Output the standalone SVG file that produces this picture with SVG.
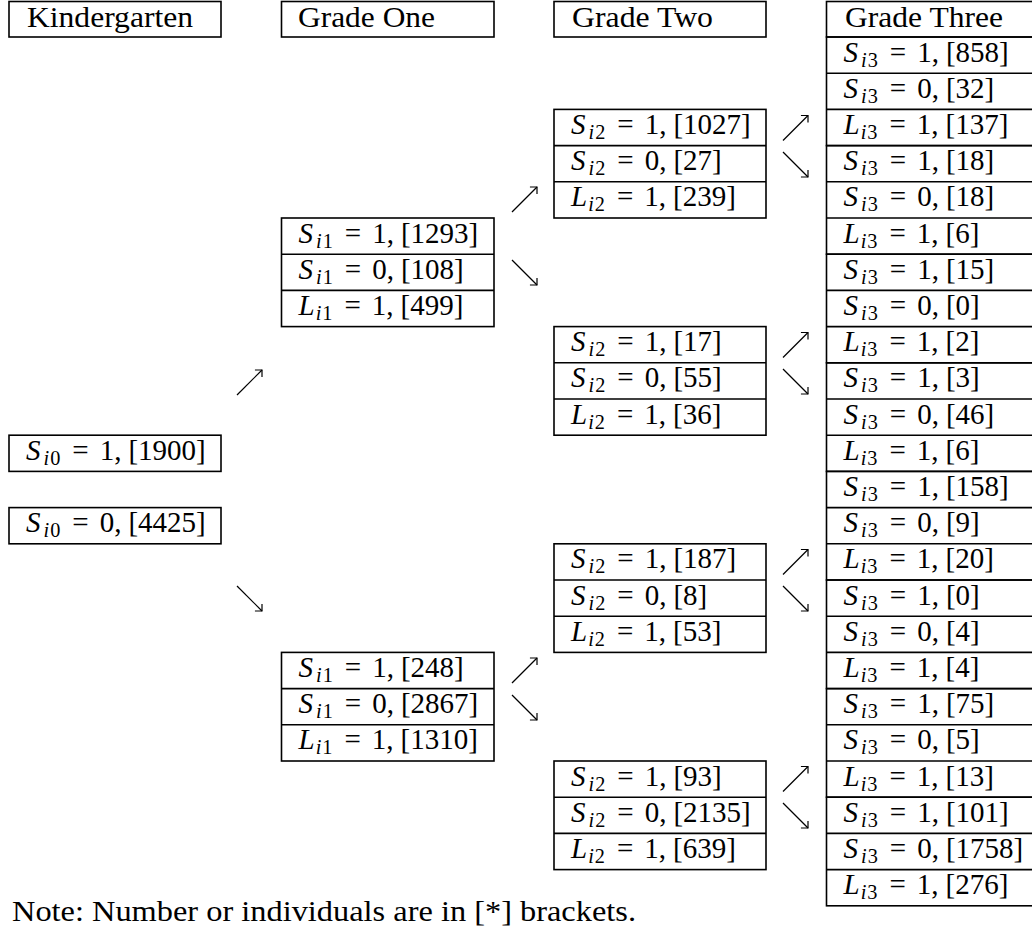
<svg xmlns="http://www.w3.org/2000/svg" width="1032" height="942" viewBox="0 0 1032 942">
<style>
.box{fill:none;stroke:#000;stroke-width:1.6}
.t{font-family:"Liberation Serif","DejaVu Serif","Times New Roman",serif;font-size:29px;fill:#000}
.i{font-style:italic}
.s{font-size:20.3px}
.arr{stroke:#000;stroke-width:1.2;fill:none;marker-end:url(#ah)}
</style>
<defs>
<marker id="ah" markerUnits="userSpaceOnUse" viewBox="-8 -7 10 14" markerWidth="10" markerHeight="14" refX="0" refY="0" orient="auto">
<path d="M-5,-5 L0,0 L-5,5" fill="none" stroke="#000" stroke-width="1.2"/>
</marker>
</defs>
<rect width="1032" height="942" fill="#fff"/>

<g id="hdr-k"><rect class="box" x="9" y="1.5" width="212" height="35.5"/><text class="t" font-family="Liberation Serif, serif" x="27" y="27" textLength="166" lengthAdjust="spacingAndGlyphs">Kindergarten</text></g>
<g id="hdr-g1"><rect class="box" x="281.5" y="1.5" width="212.5" height="35.5"/><text class="t" x="298" y="27" textLength="137" lengthAdjust="spacingAndGlyphs">Grade One</text></g>
<g id="hdr-g2"><rect class="box" x="554" y="1.5" width="212" height="35.5"/><text class="t" x="572" y="27" textLength="141" lengthAdjust="spacingAndGlyphs">Grade Two</text></g>
<g id="hdr-g3"><rect class="box" x="826.5" y="1.5" width="220" height="35.5"/><text class="t" x="845" y="27" textLength="158" lengthAdjust="spacingAndGlyphs">Grade Three</text></g>

<g id="k-s1"><rect class="box" x="9" y="435.2" width="212" height="36.2"/><text class="t" x="26" y="459.7"><tspan class="i">S</tspan><tspan class="s i" dx="3" dy="5">i</tspan><tspan class="s" dx="1">0</tspan><tspan dx="12" dy="-5">=</tspan><tspan dx="11">1,</tspan><tspan dx="7">[1900]</tspan></text></g>
<g id="k-s0"><rect class="box" x="9" y="507.6" width="212" height="36.2"/><text class="t" x="26" y="532.1"><tspan class="i">S</tspan><tspan class="s i" dx="3" dy="5">i</tspan><tspan class="s" dx="1">0</tspan><tspan dx="12" dy="-5">=</tspan><tspan dx="11">0,</tspan><tspan dx="7">[4425]</tspan></text></g>

<g id="g1-a"><rect class="box" x="281.5" y="218" width="212.5" height="108.6"/><path class="box" d="M281.5,254.2H494M281.5,290.4H494"/>
<text class="t" x="298.5" y="242.5"><tspan class="i">S</tspan><tspan class="s i" dx="3" dy="5">i</tspan><tspan class="s" dx="1">1</tspan><tspan dx="12" dy="-5">=</tspan><tspan dx="11">1,</tspan><tspan dx="7">[1293]</tspan></text>
<text class="t" x="298.5" y="278.7"><tspan class="i">S</tspan><tspan class="s i" dx="3" dy="5">i</tspan><tspan class="s" dx="1">1</tspan><tspan dx="12" dy="-5">=</tspan><tspan dx="11">0,</tspan><tspan dx="7">[108]</tspan></text>
<text class="t" x="298.5" y="314.9"><tspan class="i">L</tspan><tspan class="s i" dx="1" dy="5">i</tspan><tspan class="s" dx="1">1</tspan><tspan dx="12" dy="-5">=</tspan><tspan dx="11">1,</tspan><tspan dx="7">[499]</tspan></text></g>
<g id="g1-b"><rect class="box" x="281.5" y="652.4" width="212.5" height="108.6"/><path class="box" d="M281.5,688.6H494M281.5,724.8H494"/>
<text class="t" x="298.5" y="676.9"><tspan class="i">S</tspan><tspan class="s i" dx="3" dy="5">i</tspan><tspan class="s" dx="1">1</tspan><tspan dx="12" dy="-5">=</tspan><tspan dx="11">1,</tspan><tspan dx="7">[248]</tspan></text>
<text class="t" x="298.5" y="713.1"><tspan class="i">S</tspan><tspan class="s i" dx="3" dy="5">i</tspan><tspan class="s" dx="1">1</tspan><tspan dx="12" dy="-5">=</tspan><tspan dx="11">0,</tspan><tspan dx="7">[2867]</tspan></text>
<text class="t" x="298.5" y="749.3"><tspan class="i">L</tspan><tspan class="s i" dx="1" dy="5">i</tspan><tspan class="s" dx="1">1</tspan><tspan dx="12" dy="-5">=</tspan><tspan dx="11">1,</tspan><tspan dx="7">[1310]</tspan></text></g>

<g id="g2-a"><rect class="box" x="554" y="109.4" width="212" height="108.6"/><path class="box" d="M554,145.6H766M554,181.8H766"/>
<text class="t" x="571" y="133.9"><tspan class="i">S</tspan><tspan class="s i" dx="3" dy="5">i</tspan><tspan class="s" dx="1">2</tspan><tspan dx="12" dy="-5">=</tspan><tspan dx="11">1,</tspan><tspan dx="7">[1027]</tspan></text>
<text class="t" x="571" y="170.1"><tspan class="i">S</tspan><tspan class="s i" dx="3" dy="5">i</tspan><tspan class="s" dx="1">2</tspan><tspan dx="12" dy="-5">=</tspan><tspan dx="11">0,</tspan><tspan dx="7">[27]</tspan></text>
<text class="t" x="571" y="206.3"><tspan class="i">L</tspan><tspan class="s i" dx="1" dy="5">i</tspan><tspan class="s" dx="1">2</tspan><tspan dx="12" dy="-5">=</tspan><tspan dx="11">1,</tspan><tspan dx="7">[239]</tspan></text></g>
<g id="g2-b"><rect class="box" x="554" y="326.6" width="212" height="108.6"/><path class="box" d="M554,362.8H766M554,399H766"/>
<text class="t" x="571" y="351.1"><tspan class="i">S</tspan><tspan class="s i" dx="3" dy="5">i</tspan><tspan class="s" dx="1">2</tspan><tspan dx="12" dy="-5">=</tspan><tspan dx="11">1,</tspan><tspan dx="7">[17]</tspan></text>
<text class="t" x="571" y="387.3"><tspan class="i">S</tspan><tspan class="s i" dx="3" dy="5">i</tspan><tspan class="s" dx="1">2</tspan><tspan dx="12" dy="-5">=</tspan><tspan dx="11">0,</tspan><tspan dx="7">[55]</tspan></text>
<text class="t" x="571" y="423.5"><tspan class="i">L</tspan><tspan class="s i" dx="1" dy="5">i</tspan><tspan class="s" dx="1">2</tspan><tspan dx="12" dy="-5">=</tspan><tspan dx="11">1,</tspan><tspan dx="7">[36]</tspan></text></g>
<g id="g2-c"><rect class="box" x="554" y="543.8" width="212" height="108.6"/><path class="box" d="M554,580H766M554,616.2H766"/>
<text class="t" x="571" y="568.3"><tspan class="i">S</tspan><tspan class="s i" dx="3" dy="5">i</tspan><tspan class="s" dx="1">2</tspan><tspan dx="12" dy="-5">=</tspan><tspan dx="11">1,</tspan><tspan dx="7">[187]</tspan></text>
<text class="t" x="571" y="604.5"><tspan class="i">S</tspan><tspan class="s i" dx="3" dy="5">i</tspan><tspan class="s" dx="1">2</tspan><tspan dx="12" dy="-5">=</tspan><tspan dx="11">0,</tspan><tspan dx="7">[8]</tspan></text>
<text class="t" x="571" y="640.7"><tspan class="i">L</tspan><tspan class="s i" dx="1" dy="5">i</tspan><tspan class="s" dx="1">2</tspan><tspan dx="12" dy="-5">=</tspan><tspan dx="11">1,</tspan><tspan dx="7">[53]</tspan></text></g>
<g id="g2-d"><rect class="box" x="554" y="761" width="212" height="108.6"/><path class="box" d="M554,797.2H766M554,833.4H766"/>
<text class="t" x="571" y="785.5"><tspan class="i">S</tspan><tspan class="s i" dx="3" dy="5">i</tspan><tspan class="s" dx="1">2</tspan><tspan dx="12" dy="-5">=</tspan><tspan dx="11">1,</tspan><tspan dx="7">[93]</tspan></text>
<text class="t" x="571" y="821.7"><tspan class="i">S</tspan><tspan class="s i" dx="3" dy="5">i</tspan><tspan class="s" dx="1">2</tspan><tspan dx="12" dy="-5">=</tspan><tspan dx="11">0,</tspan><tspan dx="7">[2135]</tspan></text>
<text class="t" x="571" y="857.9"><tspan class="i">L</tspan><tspan class="s i" dx="1" dy="5">i</tspan><tspan class="s" dx="1">2</tspan><tspan dx="12" dy="-5">=</tspan><tspan dx="11">1,</tspan><tspan dx="7">[639]</tspan></text></g>

<g id="g3-a"><rect class="box" x="826.5" y="37" width="220" height="108.6"/><path class="box" d="M826.5,73.2H1046M826.5,109.4H1046"/>
<text class="t" x="843.5" y="61.5"><tspan class="i">S</tspan><tspan class="s i" dx="3" dy="5">i</tspan><tspan class="s" dx="1">3</tspan><tspan dx="12" dy="-5">=</tspan><tspan dx="11">1,</tspan><tspan dx="7">[858]</tspan></text>
<text class="t" x="843.5" y="97.7"><tspan class="i">S</tspan><tspan class="s i" dx="3" dy="5">i</tspan><tspan class="s" dx="1">3</tspan><tspan dx="12" dy="-5">=</tspan><tspan dx="11">0,</tspan><tspan dx="7">[32]</tspan></text>
<text class="t" x="843.5" y="133.9"><tspan class="i">L</tspan><tspan class="s i" dx="1" dy="5">i</tspan><tspan class="s" dx="1">3</tspan><tspan dx="12" dy="-5">=</tspan><tspan dx="11">1,</tspan><tspan dx="7">[137]</tspan></text></g>
<g id="g3-b"><rect class="box" x="826.5" y="145.6" width="220" height="108.6"/><path class="box" d="M826.5,181.8H1046M826.5,218H1046"/>
<text class="t" x="843.5" y="170.1"><tspan class="i">S</tspan><tspan class="s i" dx="3" dy="5">i</tspan><tspan class="s" dx="1">3</tspan><tspan dx="12" dy="-5">=</tspan><tspan dx="11">1,</tspan><tspan dx="7">[18]</tspan></text>
<text class="t" x="843.5" y="206.3"><tspan class="i">S</tspan><tspan class="s i" dx="3" dy="5">i</tspan><tspan class="s" dx="1">3</tspan><tspan dx="12" dy="-5">=</tspan><tspan dx="11">0,</tspan><tspan dx="7">[18]</tspan></text>
<text class="t" x="843.5" y="242.5"><tspan class="i">L</tspan><tspan class="s i" dx="1" dy="5">i</tspan><tspan class="s" dx="1">3</tspan><tspan dx="12" dy="-5">=</tspan><tspan dx="11">1,</tspan><tspan dx="7">[6]</tspan></text></g>
<g id="g3-c"><rect class="box" x="826.5" y="254.2" width="220" height="108.6"/><path class="box" d="M826.5,290.4H1046M826.5,326.6H1046"/>
<text class="t" x="843.5" y="278.7"><tspan class="i">S</tspan><tspan class="s i" dx="3" dy="5">i</tspan><tspan class="s" dx="1">3</tspan><tspan dx="12" dy="-5">=</tspan><tspan dx="11">1,</tspan><tspan dx="7">[15]</tspan></text>
<text class="t" x="843.5" y="314.9"><tspan class="i">S</tspan><tspan class="s i" dx="3" dy="5">i</tspan><tspan class="s" dx="1">3</tspan><tspan dx="12" dy="-5">=</tspan><tspan dx="11">0,</tspan><tspan dx="7">[0]</tspan></text>
<text class="t" x="843.5" y="351.1"><tspan class="i">L</tspan><tspan class="s i" dx="1" dy="5">i</tspan><tspan class="s" dx="1">3</tspan><tspan dx="12" dy="-5">=</tspan><tspan dx="11">1,</tspan><tspan dx="7">[2]</tspan></text></g>
<g id="g3-d"><rect class="box" x="826.5" y="362.8" width="220" height="108.6"/><path class="box" d="M826.5,399H1046M826.5,435.2H1046"/>
<text class="t" x="843.5" y="387.3"><tspan class="i">S</tspan><tspan class="s i" dx="3" dy="5">i</tspan><tspan class="s" dx="1">3</tspan><tspan dx="12" dy="-5">=</tspan><tspan dx="11">1,</tspan><tspan dx="7">[3]</tspan></text>
<text class="t" x="843.5" y="423.5"><tspan class="i">S</tspan><tspan class="s i" dx="3" dy="5">i</tspan><tspan class="s" dx="1">3</tspan><tspan dx="12" dy="-5">=</tspan><tspan dx="11">0,</tspan><tspan dx="7">[46]</tspan></text>
<text class="t" x="843.5" y="459.7"><tspan class="i">L</tspan><tspan class="s i" dx="1" dy="5">i</tspan><tspan class="s" dx="1">3</tspan><tspan dx="12" dy="-5">=</tspan><tspan dx="11">1,</tspan><tspan dx="7">[6]</tspan></text></g>
<g id="g3-e"><rect class="box" x="826.5" y="471.4" width="220" height="108.6"/><path class="box" d="M826.5,507.6H1046M826.5,543.8H1046"/>
<text class="t" x="843.5" y="495.9"><tspan class="i">S</tspan><tspan class="s i" dx="3" dy="5">i</tspan><tspan class="s" dx="1">3</tspan><tspan dx="12" dy="-5">=</tspan><tspan dx="11">1,</tspan><tspan dx="7">[158]</tspan></text>
<text class="t" x="843.5" y="532.1"><tspan class="i">S</tspan><tspan class="s i" dx="3" dy="5">i</tspan><tspan class="s" dx="1">3</tspan><tspan dx="12" dy="-5">=</tspan><tspan dx="11">0,</tspan><tspan dx="7">[9]</tspan></text>
<text class="t" x="843.5" y="568.3"><tspan class="i">L</tspan><tspan class="s i" dx="1" dy="5">i</tspan><tspan class="s" dx="1">3</tspan><tspan dx="12" dy="-5">=</tspan><tspan dx="11">1,</tspan><tspan dx="7">[20]</tspan></text></g>
<g id="g3-f"><rect class="box" x="826.5" y="580" width="220" height="108.6"/><path class="box" d="M826.5,616.2H1046M826.5,652.4H1046"/>
<text class="t" x="843.5" y="604.5"><tspan class="i">S</tspan><tspan class="s i" dx="3" dy="5">i</tspan><tspan class="s" dx="1">3</tspan><tspan dx="12" dy="-5">=</tspan><tspan dx="11">1,</tspan><tspan dx="7">[0]</tspan></text>
<text class="t" x="843.5" y="640.7"><tspan class="i">S</tspan><tspan class="s i" dx="3" dy="5">i</tspan><tspan class="s" dx="1">3</tspan><tspan dx="12" dy="-5">=</tspan><tspan dx="11">0,</tspan><tspan dx="7">[4]</tspan></text>
<text class="t" x="843.5" y="676.9"><tspan class="i">L</tspan><tspan class="s i" dx="1" dy="5">i</tspan><tspan class="s" dx="1">3</tspan><tspan dx="12" dy="-5">=</tspan><tspan dx="11">1,</tspan><tspan dx="7">[4]</tspan></text></g>
<g id="g3-g"><rect class="box" x="826.5" y="688.6" width="220" height="108.6"/><path class="box" d="M826.5,724.8H1046M826.5,761H1046"/>
<text class="t" x="843.5" y="713.1"><tspan class="i">S</tspan><tspan class="s i" dx="3" dy="5">i</tspan><tspan class="s" dx="1">3</tspan><tspan dx="12" dy="-5">=</tspan><tspan dx="11">1,</tspan><tspan dx="7">[75]</tspan></text>
<text class="t" x="843.5" y="749.3"><tspan class="i">S</tspan><tspan class="s i" dx="3" dy="5">i</tspan><tspan class="s" dx="1">3</tspan><tspan dx="12" dy="-5">=</tspan><tspan dx="11">0,</tspan><tspan dx="7">[5]</tspan></text>
<text class="t" x="843.5" y="785.5"><tspan class="i">L</tspan><tspan class="s i" dx="1" dy="5">i</tspan><tspan class="s" dx="1">3</tspan><tspan dx="12" dy="-5">=</tspan><tspan dx="11">1,</tspan><tspan dx="7">[13]</tspan></text></g>
<g id="g3-h"><rect class="box" x="826.5" y="797.2" width="220" height="108.6"/><path class="box" d="M826.5,833.4H1046M826.5,869.6H1046"/>
<text class="t" x="843.5" y="821.7"><tspan class="i">S</tspan><tspan class="s i" dx="3" dy="5">i</tspan><tspan class="s" dx="1">3</tspan><tspan dx="12" dy="-5">=</tspan><tspan dx="11">1,</tspan><tspan dx="7">[101]</tspan></text>
<text class="t" x="843.5" y="857.9"><tspan class="i">S</tspan><tspan class="s i" dx="3" dy="5">i</tspan><tspan class="s" dx="1">3</tspan><tspan dx="12" dy="-5">=</tspan><tspan dx="11">0,</tspan><tspan dx="7">[1758]</tspan></text>
<text class="t" x="843.5" y="894.1"><tspan class="i">L</tspan><tspan class="s i" dx="1" dy="5">i</tspan><tspan class="s" dx="1">3</tspan><tspan dx="12" dy="-5">=</tspan><tspan dx="11">1,</tspan><tspan dx="7">[276]</tspan></text></g>

<g id="connectors">
<path class="arr" d="M237,395L262,370"/>
<path class="arr" d="M237,586L262,611"/>
<path class="arr" d="M512,212L537,187"/>
<path class="arr" d="M512,260L537,285"/>
<path class="arr" d="M512,683L537,658"/>
<path class="arr" d="M512,695L537,720"/>
<path class="arr" d="M783,140.5L808,115.5"/>
<path class="arr" d="M783,152L808,177"/>
<path class="arr" d="M783,357.5L808,332.5"/>
<path class="arr" d="M783,369L808,394"/>
<path class="arr" d="M783,574.5L808,549.5"/>
<path class="arr" d="M783,586L808,611"/>
<path class="arr" d="M783,791.5L808,766.5"/>
<path class="arr" d="M783,803L808,828"/>
</g>

<text id="note" class="t" x="12" y="921" textLength="624" lengthAdjust="spacingAndGlyphs">Note: Number or individuals are in [*] brackets.</text>
</svg>
